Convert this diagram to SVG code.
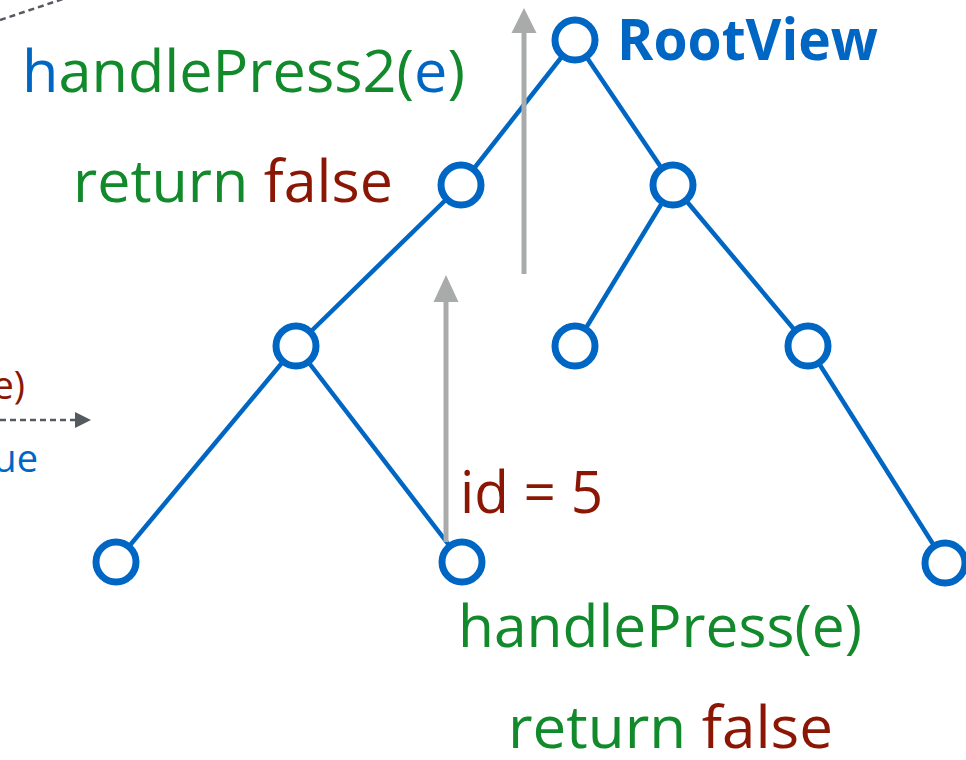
<svg xmlns="http://www.w3.org/2000/svg" width="966" height="760" viewBox="0 0 966 760">
<style>
.edge{stroke:#0066c4;stroke-width:4.5;fill:none}
.node{fill:#fff;stroke:#0066c4;stroke-width:7}
.t{font-family:"Open Sans","Liberation Sans",sans-serif;font-size:58px}
.g{fill:#128a2c}
.b{fill:#0066c4}
.r{fill:#8b1604}
.flow{stroke:#a9abab;stroke-width:5;fill:none}
.head{fill:#a9abab}
.dash{stroke:#555a60;stroke-width:2.5;stroke-dasharray:6 4;fill:none}
</style>
<defs>
<marker id="dk" viewBox="0 0 10 10" refX="0" refY="5" markerWidth="16" markerHeight="16" markerUnits="userSpaceOnUse" orient="auto">
<path d="M0,0 L10,5 L0,10 z" fill="#555a60"/>
</marker>
</defs>
<g id="connectors">
<line class="edge" x1="575" y1="40" x2="461" y2="185"/>
<line class="edge" x1="575" y1="40" x2="673" y2="185"/>
<line class="edge" x1="461" y1="185" x2="296" y2="346"/>
<line class="edge" x1="673" y1="185" x2="575" y2="346"/>
<line class="edge" x1="673" y1="185" x2="808" y2="346"/>
<line class="edge" x1="296" y1="346" x2="116" y2="562"/>
<line class="edge" x1="296" y1="346" x2="462" y2="562"/>
<line class="edge" x1="808" y1="346" x2="945" y2="563"/>
<line class="flow" x1="524" y1="274" x2="524" y2="30"/>
<polygon class="head" points="524,8 536.5,33 511.5,33"/>
<line class="flow" x1="446" y1="542" x2="446" y2="298"/>
<polygon class="head" points="446,275 458.5,302 433.5,302"/>
<line class="dash" x1="0" y1="20" x2="66" y2="-2"/>
<line class="dash" x1="0" y1="420" x2="75" y2="420" marker-end="url(#dk)"/>
</g>
<g id="n-root"><circle class="node" cx="575" cy="40" r="20"/></g>
<g id="n-l1a"><circle class="node" cx="461" cy="185" r="20"/></g>
<g id="n-l1b"><circle class="node" cx="673" cy="185" r="20"/></g>
<g id="n-l2a"><circle class="node" cx="296" cy="346" r="20"/></g>
<g id="n-l2b"><circle class="node" cx="575" cy="346" r="20"/></g>
<g id="n-l2c"><circle class="node" cx="808" cy="346" r="20"/></g>
<g id="n-l3a"><circle class="node" cx="116" cy="562" r="20"/></g>
<g id="n-l3b"><circle class="node" cx="462" cy="562" r="20"/></g>
<g id="n-l3c"><circle class="node" cx="945" cy="563" r="20"/></g>
<g id="labels">
<text class="t" x="617" y="60" font-weight="bold" fill="#0066c4" textLength="261" lengthAdjust="spacingAndGlyphs">RootView</text>
<text class="t g" x="22" y="92" textLength="443" lengthAdjust="spacingAndGlyphs"><tspan class="b">h</tspan>andlePress2(<tspan class="b">e</tspan>)</text>
<text class="t g" x="73" y="202" textLength="320" lengthAdjust="spacingAndGlyphs">return <tspan class="r">false</tspan></text>
<text class="t r" x="460" y="513" textLength="143" lengthAdjust="spacingAndGlyphs">id = 5</text>
<text class="t g" x="458" y="647" textLength="404" lengthAdjust="spacingAndGlyphs">handlePress(e)</text>
<text class="t g" x="508" y="748" textLength="325" lengthAdjust="spacingAndGlyphs">return <tspan class="r">false</tspan></text>
<text class="t r" x="25" y="399" font-size="38" text-anchor="end" style="font-size:38px">e)</text>
<text class="t b" x="38" y="472" text-anchor="end" style="font-size:38px">ue</text>
</g>
</svg>
